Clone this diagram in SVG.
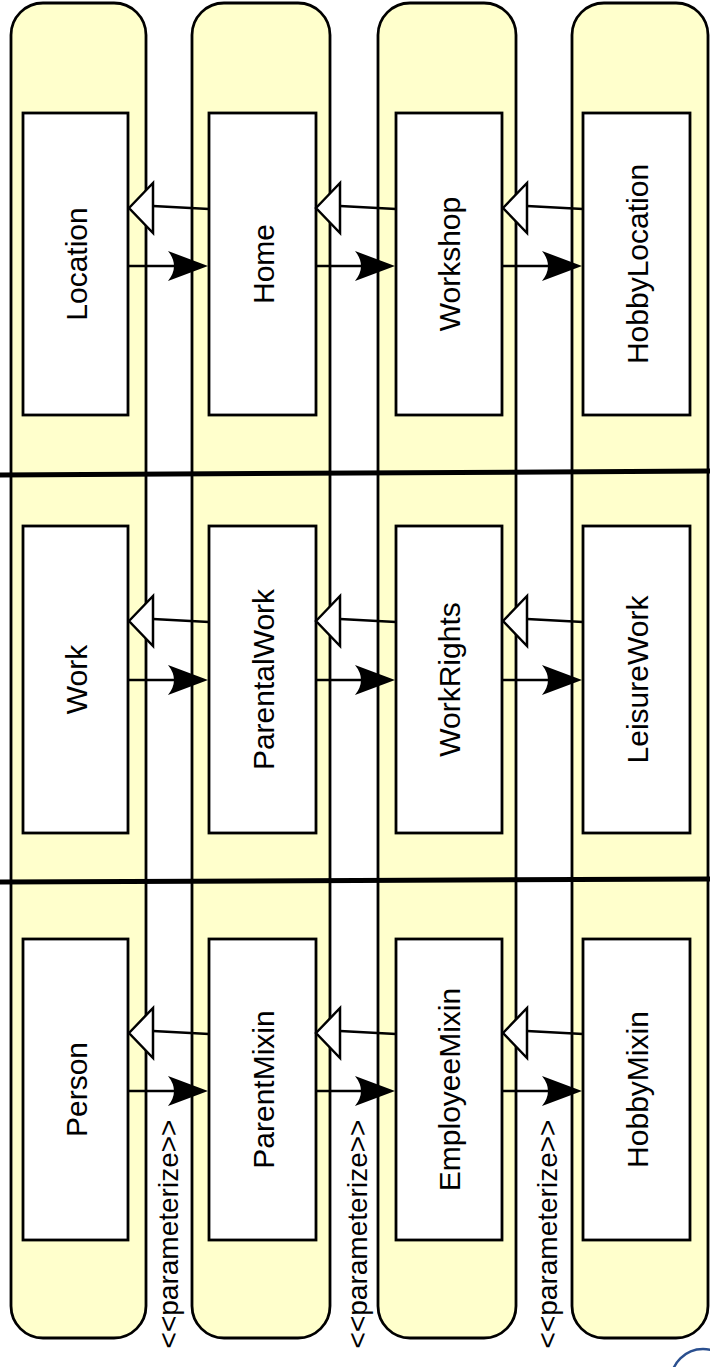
<svg xmlns="http://www.w3.org/2000/svg" xmlns:xlink="http://www.w3.org/1999/xlink" width="710" height="1367" viewBox="0 0 710 1367">
<style>
.lane{fill:#ffffcc;stroke:#000;stroke-width:2.8}
.box{fill:#fff;stroke:#000;stroke-width:2.8}
.lbl{font-family:"Liberation Sans",Arial,sans-serif;font-size:30px;fill:#000;text-anchor:middle}
.par{font-family:"Liberation Sans",Arial,sans-serif;font-size:28px;fill:#000;text-anchor:middle}
.ln{stroke:#000;stroke-width:2.5;fill:none}
.sep{stroke:#000;stroke-width:5}
</style>
<defs>
<polygon id="gen" points="0,0 24,-25 24,25" fill="#fff" stroke="#000" stroke-width="2.5" stroke-linejoin="miter"/>
<path id="assoc" d="M0,0 L-40,-15 Q-28,0 -40,15 Z" fill="#000"/>
</defs>
<g id="lanes">
<rect class="lane" x="11" y="3" width="135" height="1335" rx="32" ry="32"/>
<rect class="lane" x="192" y="3" width="138" height="1335" rx="32" ry="32"/>
<rect class="lane" x="378" y="3" width="138" height="1335" rx="32" ry="32"/>
<rect class="lane" x="572" y="3" width="136" height="1335" rx="32" ry="32"/>
</g>
<g id="separators">
<line class="sep" x1="0" y1="475" x2="710" y2="471"/>
<line class="sep" x1="0" y1="882" x2="710" y2="879"/>
</g>
<g id="Location"><rect class="box" x="23" y="113" width="105" height="302"/><text class="lbl" x="86.5" y="264" transform="rotate(-90 86.5 264)">Location</text></g>
<g id="Home"><rect class="box" x="209" y="113" width="107" height="302"/><text class="lbl" x="273.5" y="264" transform="rotate(-90 273.5 264)">Home</text></g>
<g id="Workshop"><rect class="box" x="396" y="113" width="106" height="302"/><text class="lbl" x="460" y="264" transform="rotate(-90 460 264)">Workshop</text></g>
<g id="HobbyLocation"><rect class="box" x="583" y="113" width="107" height="302"/><text class="lbl" x="647.5" y="264" transform="rotate(-90 647.5 264)">HobbyLocation</text></g>
<g id="Work"><rect class="box" x="23" y="526" width="105" height="307"/><text class="lbl" x="86.5" y="679.5" transform="rotate(-90 86.5 679.5)">Work</text></g>
<g id="ParentalWork"><rect class="box" x="209" y="526" width="107" height="307"/><text class="lbl" x="273.5" y="679.5" transform="rotate(-90 273.5 679.5)">ParentalWork</text></g>
<g id="WorkRights"><rect class="box" x="396" y="526" width="106" height="307"/><text class="lbl" x="460" y="679.5" transform="rotate(-90 460 679.5)">WorkRights</text></g>
<g id="LeisureWork"><rect class="box" x="583" y="526" width="107" height="307"/><text class="lbl" x="647.5" y="679.5" transform="rotate(-90 647.5 679.5)">LeisureWork</text></g>
<g id="Person"><rect class="box" x="23" y="939" width="105" height="301"/><text class="lbl" x="86.5" y="1089.5" transform="rotate(-90 86.5 1089.5)">Person</text></g>
<g id="ParentMixin"><rect class="box" x="209" y="939" width="107" height="301"/><text class="lbl" x="273.5" y="1089.5" transform="rotate(-90 273.5 1089.5)">ParentMixin</text></g>
<g id="EmployeeMixin"><rect class="box" x="396" y="939" width="106" height="301"/><text class="lbl" x="460" y="1089.5" transform="rotate(-90 460 1089.5)">EmployeeMixin</text></g>
<g id="HobbyMixin"><rect class="box" x="583" y="939" width="107" height="301"/><text class="lbl" x="647.5" y="1089.5" transform="rotate(-90 647.5 1089.5)">HobbyMixin</text></g>
<g id="connectors">
<line class="ln" x1="209" y1="209" x2="153" y2="206"/><use xlink:href="#gen" x="129" y="208"/>
<line class="ln" x1="396" y1="209" x2="340" y2="206"/><use xlink:href="#gen" x="316" y="208"/>
<line class="ln" x1="583" y1="209" x2="527" y2="206"/><use xlink:href="#gen" x="503" y="208"/>
<line class="ln" x1="128" y1="266" x2="200" y2="266"/><use xlink:href="#assoc" x="208" y="266"/>
<line class="ln" x1="316" y1="266" x2="388" y2="266"/><use xlink:href="#assoc" x="395" y="266"/>
<line class="ln" x1="502" y1="266" x2="575" y2="266"/><use xlink:href="#assoc" x="582" y="266"/>
<line class="ln" x1="209" y1="622" x2="153" y2="619"/><use xlink:href="#gen" x="129" y="621"/>
<line class="ln" x1="396" y1="622" x2="340" y2="619"/><use xlink:href="#gen" x="316" y="621"/>
<line class="ln" x1="583" y1="622" x2="527" y2="619"/><use xlink:href="#gen" x="503" y="621"/>
<line class="ln" x1="128" y1="680" x2="200" y2="680"/><use xlink:href="#assoc" x="208" y="680"/>
<line class="ln" x1="316" y1="680" x2="388" y2="680"/><use xlink:href="#assoc" x="395" y="680"/>
<line class="ln" x1="502" y1="680" x2="575" y2="680"/><use xlink:href="#assoc" x="582" y="680"/>
<line class="ln" x1="209" y1="1034" x2="153" y2="1031"/><use xlink:href="#gen" x="129" y="1033"/>
<line class="ln" x1="396" y1="1034" x2="340" y2="1031"/><use xlink:href="#gen" x="316" y="1033"/>
<line class="ln" x1="583" y1="1034" x2="527" y2="1031"/><use xlink:href="#gen" x="503" y="1033"/>
<line class="ln" x1="128" y1="1091" x2="200" y2="1091"/><use xlink:href="#assoc" x="208" y="1091"/>
<line class="ln" x1="316" y1="1091" x2="388" y2="1091"/><use xlink:href="#assoc" x="395" y="1091"/>
<line class="ln" x1="502" y1="1091" x2="575" y2="1091"/><use xlink:href="#assoc" x="582" y="1091"/>
</g>
<g id="labels">
<text class="par" x="178" y="1234" transform="rotate(-90 178 1234)">&lt;&lt;parameterize&gt;&gt;</text>
<text class="par" x="367" y="1234" transform="rotate(-90 367 1234)">&lt;&lt;parameterize&gt;&gt;</text>
<text class="par" x="557" y="1234" transform="rotate(-90 557 1234)">&lt;&lt;parameterize&gt;&gt;</text>
</g>
<g id="logo">
<circle cx="703" cy="1381" r="32" fill="none" stroke="#2a4f8f" stroke-width="2.5"/>
</g>
</svg>
